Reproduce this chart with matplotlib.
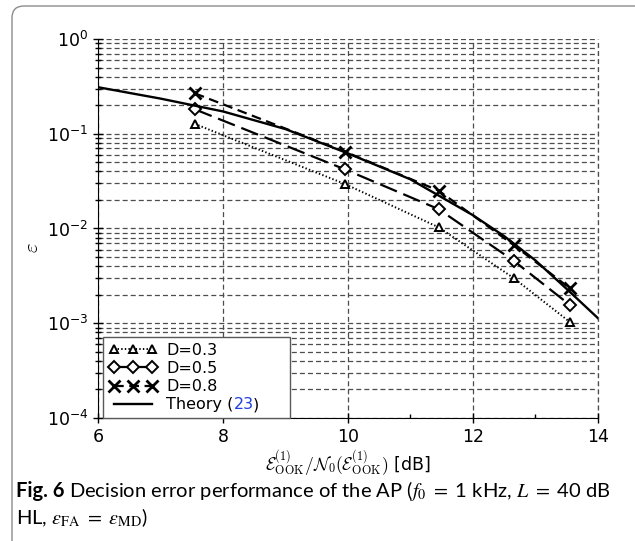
import numpy as np
import matplotlib
matplotlib.use('Agg')
import matplotlib.pyplot as plt
from matplotlib.patches import FancyBboxPatch
from matplotlib.ticker import LogLocator, MultipleLocator, NullFormatter

plt.rcParams['lines.scale_dashes'] = False

# ── Data ─────────────────────────────────────────────────────────────────────
snr_db = [7.55, 9.95, 11.45, 12.65, 13.55]
eps_d03 = [0.127, 0.0295, 0.0103, 0.0030, 0.00103]
eps_d05 = [0.181, 0.0421, 0.0160, 0.00457, 0.00156]
eps_d08 = [0.267, 0.0647, 0.0251, 0.0067, 0.00234]

theory_x = [6, 7, 8, 9, 10, 11, 12, 12.5, 13, 13.5, 14]
theory_y = [0.31, 0.235, 0.172, 0.112, 0.062, 0.033, 0.0138, 0.0083, 0.0046, 0.0023, 0.00113]

x_ticks = [6, 8, 10, 12, 14]

# ── Figure ───────────────────────────────────────────────────────────────────
fig = plt.figure(figsize=(6.35, 5.41), dpi=100)
ax = fig.add_axes([0.1543, 0.2274, 0.7874, 0.7005])

grid_kw = dict(color='0.3', lw=0.9, dashes=(3.6, 2.2))
ax.grid(True, which='major', axis='x', zorder=0, **grid_kw)
ax.grid(True, which='both', axis='y', zorder=0, **grid_kw)
ax.axvline(14, clip_on=False, zorder=0, **grid_kw)
ax.set_axisbelow(True)

ax.plot(snr_db, eps_d03, color='black', lw=1.4, dashes=(1.0, 1.6),
        marker='^', ms=6, mfc='white', mec='black', mew=1.4, label='D=0.3')
ax.plot(snr_db, eps_d05, color='black', lw=1.6, dashes=(13, 5),
        marker='D', ms=6, mfc='white', mec='black', mew=1.4, label='D=0.5')
ax.plot(snr_db, eps_d08, color='black', lw=1.6, dashes=(7, 4),
        marker='x', ms=9, mec='black', mew=2.0, label='D=0.8')
ax.plot(theory_x, theory_y, color='black', lw=1.7, label='Theory (')

ax.set_yscale('log')
ax.set_xlim(6, 14)
ax.set_ylim(1e-4, 1)
ax.set_xticks(x_ticks)
ax.xaxis.set_minor_locator(MultipleLocator(1))
ax.yaxis.set_major_locator(LogLocator(base=10, numticks=10))
ax.yaxis.set_minor_locator(LogLocator(base=10, subs=np.arange(2, 10), numticks=20))
ax.yaxis.set_minor_formatter(NullFormatter())

ax.spines['top'].set_visible(False)
ax.spines['right'].set_visible(False)
ax.tick_params(axis='both', which='major', direction='inout', length=7, width=1, labelsize=12.5)
ax.tick_params(axis='y', which='minor', direction='inout', length=5, width=1)
ax.tick_params(axis='x', which='minor', direction='in', length=3, width=1)

ax.set_xlabel(r'$\mathcal{E}_{\mathrm{OOK}}^{(1)}/\mathcal{N}_0(\mathcal{E}_{\mathrm{OOK}}^{(1)})$ [dB]',
              fontsize=12.5, math_fontfamily='cm', labelpad=2)
ax.set_ylabel(r'$\varepsilon$', fontsize=15, math_fontfamily='cm')
ax.yaxis.set_label_coords(-0.112, 0.45)

# ── Legend ───────────────────────────────────────────────────────────────────
leg = ax.legend(loc='lower left', bbox_to_anchor=(0.0105, 0.0, 0.3735, 0.222),
                mode='expand', fontsize=11.5, numpoints=3, handlelength=3.0,
                handletextpad=0.6, labelspacing=0.2, borderpad=0.35,
                borderaxespad=0.0, fancybox=False, framealpha=1, edgecolor='0.35')
leg.get_frame().set_linewidth(1.0)
t_theory = leg.get_texts()[3]
a1 = ax.annotate('23', xy=(1, 0), xycoords=t_theory, va='bottom', ha='left',
                 fontsize=11.5, color='#1f3fe0', zorder=10)
a2 = ax.annotate(')', xy=(1, 0), xycoords=a1, xytext=(-0.5, 0), textcoords='offset points',
                 va='bottom', ha='left', fontsize=11.5, color='black', zorder=10)

# ── Caption ──────────────────────────────────────────────────────────────────
cap_font = 'Lato'
cap_size = 14.5
c1 = fig.text(16 / 635, 1 - 497 / 541, 'Fig. 6 ', fontsize=cap_size, fontweight='bold',
              family=cap_font, va='baseline')
fig.canvas.draw()
c2 = fig.text(c1.get_window_extent().x1 / 635, 1 - 497 / 541,
              r'Decision error performance of the AP ($f_0\ =\ $1 kHz, $L\ =\ $40 dB',
              fontsize=cap_size, family=cap_font, math_fontfamily='stix', va='baseline')
fig.text(16 / 635, 1 - 524 / 541,
         r'HL, $\varepsilon_{\mathrm{FA}}\ =\ \varepsilon_{\mathrm{MD}}$)',
         fontsize=cap_size, family=cap_font, math_fontfamily='stix', va='baseline')

# rounded frame around the figure
frame = FancyBboxPatch((12, -30), 700, 535 + 30, boxstyle='round,pad=0,rounding_size=12',
                       transform=None, fc='none', ec='0.55', lw=1.0)
fig.add_artist(frame)

fig.savefig('out.png', dpi=100)
